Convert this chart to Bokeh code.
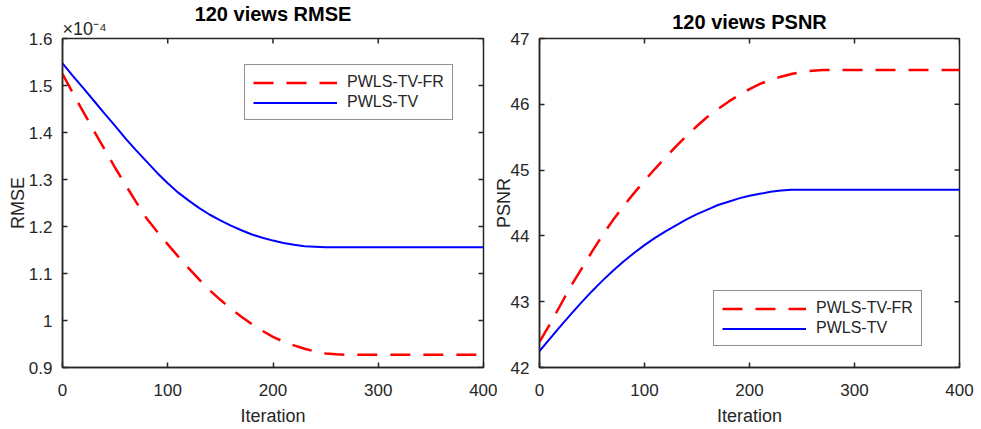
import math
from bokeh.plotting import figure
from bokeh.models import FixedTicker, Legend, LegendItem, Range1d, Title
from bokeh.layouts import row
from bokeh.embed import file_html
from bokeh.resources import INLINE

# ---------------- data ----------------
iteration = [0, 10, 20, 30, 40, 50, 60, 70, 80, 90, 100, 110, 120, 130, 140, 150,
             160, 170, 180, 190, 200, 210, 220, 230, 240, 250, 260, 270, 300, 350, 400]

# RMSE (x 1e-4)
rmse_fr = [1.525, 1.483, 1.443, 1.403, 1.364, 1.325, 1.288, 1.252, 1.217, 1.189, 1.162,
           1.136, 1.111, 1.087, 1.064, 1.044, 1.025, 1.008, 0.992, 0.978, 0.965, 0.955,
           0.947, 0.940, 0.934, 0.930, 0.928, 0.927, 0.927, 0.927, 0.927]
rmse_tv = [1.547, 1.520, 1.494, 1.467, 1.440, 1.414, 1.387, 1.362, 1.338, 1.314, 1.292,
           1.272, 1.255, 1.239, 1.225, 1.213, 1.202, 1.192, 1.183, 1.176, 1.170, 1.165,
           1.161, 1.158, 1.157, 1.156, 1.156, 1.156, 1.156, 1.156, 1.156]

# PSNR
psnr_fr = [42.39, 42.66, 42.95, 43.24, 43.50, 43.76, 44.01, 44.24, 44.45, 44.65, 44.84,
           45.02, 45.19, 45.36, 45.52, 45.67, 45.81, 45.93, 46.04, 46.14, 46.23, 46.31,
           46.37, 46.42, 46.46, 46.49, 46.51, 46.52, 46.52, 46.52, 46.52]
psnr_tv = [42.25, 42.44, 42.63, 42.81, 42.99, 43.16, 43.32, 43.47, 43.61, 43.74, 43.86,
           43.97, 44.07, 44.16, 44.25, 44.33, 44.40, 44.47, 44.52, 44.57, 44.61, 44.64,
           44.67, 44.69, 44.70, 44.70, 44.70, 44.70, 44.70, 44.70, 44.70]

x_ticks = [0, 100, 200, 300, 400]
rmse_ticks = [0.9, 1.0, 1.1, 1.2, 1.3, 1.4, 1.5, 1.6]
rmse_tick_labels = ["0.9", "1", "1.1", "1.2", "1.3", "1.4", "1.5", "1.6"]
psnr_ticks = [42, 43, 44, 45, 46, 47]

series_names = ["PWLS-TV-FR", "PWLS-TV"]
titles = ["120 views RMSE", "120 views PSNR"]
rmse_exponent = "×10⁻⁴"

FONT = "Liberation Sans"
DARK = "#262626"


def style_axis(ax):
    ax.axis_line_color = DARK
    ax.axis_line_width = 1.5
    ax.major_tick_line_color = DARK
    ax.major_tick_line_width = 1.5
    ax.major_tick_in = 5
    ax.major_tick_out = 0
    ax.minor_tick_line_color = None
    ax.major_label_text_font = FONT
    ax.major_label_text_color = DARK
    ax.major_label_text_font_size = "17px"
    ax.axis_label_text_font = FONT
    ax.axis_label_text_color = DARK
    ax.axis_label_text_font_size = "18px"
    ax.axis_label_text_font_style = "normal"


def make_fig(title, ydata_fr, ydata_tv, yrange, yticks, ylabel_over, ylabel,
             width, bl, br, legend_loc, ylab_standoff, title_standoff):
    p = figure(width=width, height=428, output_backend="svg", toolbar_location=None,
               x_range=Range1d(0, 400), y_range=Range1d(*yrange),
               min_border_left=bl, min_border_right=br, min_border_top=38,
               min_border_bottom=61, x_axis_label="Iteration", y_axis_label=ylabel)
    p.title.text = title
    p.title.align = "center"
    p.title.text_font = FONT
    p.title.text_font_size = "20px"
    p.title.text_font_style = "bold"
    p.title.text_color = "black"
    p.title.standoff = title_standoff
    p.grid.visible = False
    p.outline_line_color = DARK
    p.outline_line_width = 1.5
    p.background_fill_color = "white"

    r1 = p.line(iteration, ydata_fr, line_color="#FF0000", line_width=2.5, line_dash="20 13")
    r2 = p.line(iteration, ydata_tv, line_color="#0000FF", line_width=2)

    # inward ticks on the top and right edges of the box (outer half clipped by frame)
    p.scatter(x=x_ticks, y=[yrange[1]] * len(x_ticks), marker="dash", angle=math.pi / 2,
              size=10, line_color=DARK, line_width=1.5)
    p.scatter(x=[400] * len(yticks), y=yticks, marker="dash", size=10,
              line_color=DARK, line_width=1.5)

    xa = p.xaxis[0]
    ya = p.yaxis[0]
    style_axis(xa)
    style_axis(ya)
    xa.ticker = FixedTicker(ticks=x_ticks)
    ya.ticker = FixedTicker(ticks=yticks)
    if ylabel_over:
        ya.major_label_overrides = ylabel_over
    xa.major_label_standoff = 16
    xa.axis_label_standoff = 7
    ya.major_label_standoff = 10
    ya.axis_label_standoff = ylab_standoff

    legend = Legend(items=[LegendItem(label=series_names[0], renderers=[r1]),
                           LegendItem(label=series_names[1], renderers=[r2])],
                    location=legend_loc)
    legend.label_text_font = FONT
    legend.label_text_font_size = "16px"
    legend.label_text_color = DARK
    legend.glyph_width = 84
    legend.glyph_height = 17
    legend.label_height = 17
    legend.label_standoff = 10
    legend.spacing = 2
    legend.padding = 8
    legend.margin = 0
    legend.border_line_color = DARK
    legend.border_line_width = 1
    legend.background_fill_color = "white"
    legend.background_fill_alpha = 1
    p.add_layout(legend)
    return p


p1 = make_fig(titles[0], rmse_fr, rmse_tv, (0.9, 1.6), rmse_ticks,
              dict(zip(rmse_ticks, rmse_tick_labels)), "RMSE",
              497, 62, 14, (182, 247), -2, -16)
p1.add_layout(Title(text=rmse_exponent, align="left", text_font=FONT,
                    text_font_size="18px", text_font_style="normal",
                    text_color=DARK, standoff=0), "above")
p1.margin = (0, -7, 0, 0)

p2 = make_fig(titles[1], psnr_fr, psnr_tv, (42, 47), psnr_ticks, None, "PSNR",
              485, 49, 16, (174, 21), -6, 12)
p2.border_fill_alpha = 0

layout = row(p1, p2)
open("out.html", "w").write(file_html(layout, INLINE))
